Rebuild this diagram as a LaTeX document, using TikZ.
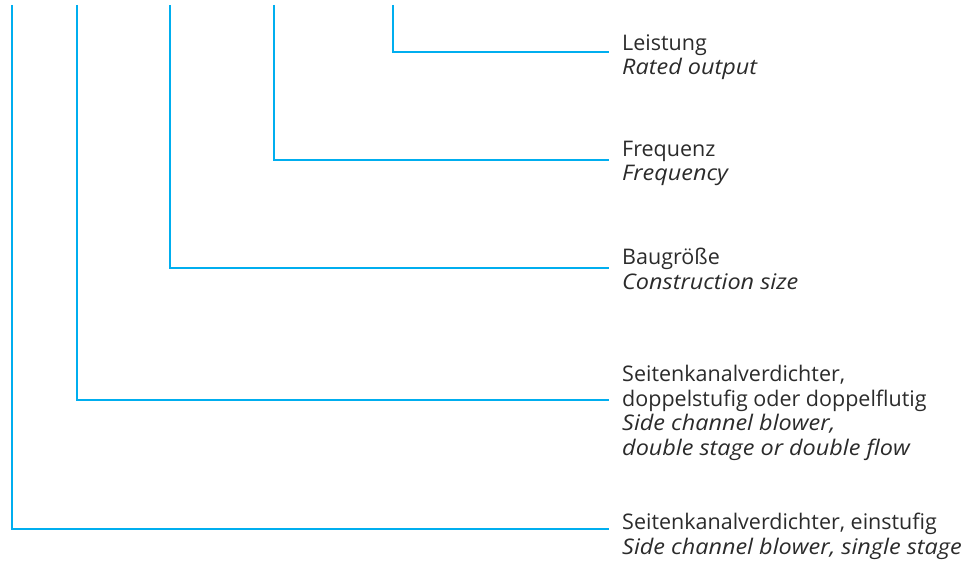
\documentclass[tikz,border=0pt]{standalone}
\usepackage{fontspec}
\setmainfont{Open Sans}[ItalicFeatures={FakeStretch=1.09}]
\definecolor{lead}{HTML}{00AEEF}
\definecolor{txt}{HTML}{2B2B2B}
\begin{document}
\begin{tikzpicture}[x=1pt,y=-1pt,
  leader/.style={draw=lead,line width=2pt,line join=miter},
  lbl/.style={anchor=base west,inner sep=0pt,align=left,text=txt,
    font=\fontsize{21.5}{24.5}\selectfont}]
\useasboundingbox (0,0) rectangle (976,564);
\coordinate (t1) at (393,5);
\coordinate (t2) at (274,5);
\coordinate (t3) at (170,5);
\coordinate (t4) at (77,5);
\coordinate (t5) at (12,5);
\coordinate (e1) at (609,52);
\coordinate (e2) at (609,160);
\coordinate (e3) at (609,268);
\coordinate (e4) at (609,400);
\coordinate (e5) at (609,529);
\node[lbl] (n1) at (622,75) {Leistung\\\textit{Rated output}};
\node[lbl] (n2) at (622,181) {Frequenz\\\textit{Frequency}};
\node[lbl] (n3) at (622,289) {Baugröße\\\textit{Construction size}};
\node[lbl] (n4) at (622,455) {Seitenkanalverdichter,\\doppelstufig oder doppelflutig\\\textit{Side channel blower,}\\\textit{double stage or double flow}};
\node[lbl] (n5) at (622,554) {Seitenkanalverdichter, einstufig\\\textit{Side channel blower, single stage}};
\draw[leader] (t1) |- (e1);
\draw[leader] (t2) |- (e2);
\draw[leader] (t3) |- (e3);
\draw[leader] (t4) |- (e4);
\draw[leader] (t5) |- (e5);
\end{tikzpicture}
\end{document}
